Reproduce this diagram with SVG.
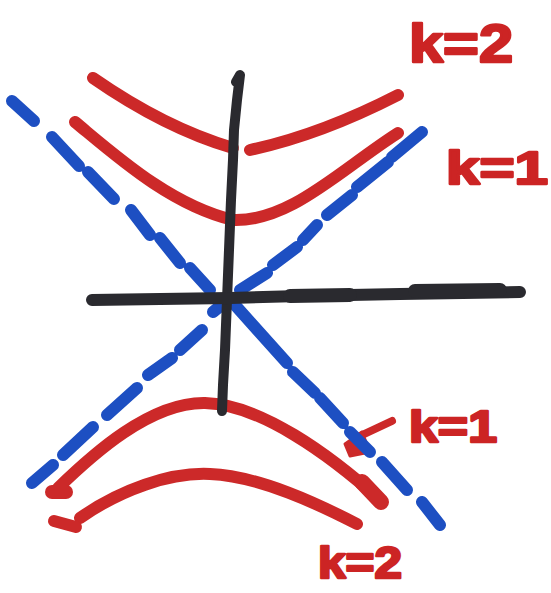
<svg xmlns="http://www.w3.org/2000/svg" width="551" height="593" viewBox="0 0 551 593">
<style>
.red{fill:none;stroke:#cc2929;stroke-width:12;stroke-linecap:round;stroke-linejoin:round}
.blue{fill:none;stroke:#1d4fc2;stroke-width:12;stroke-linecap:round}
.ax{fill:none;stroke:#2a2a2f;stroke-linecap:round;stroke-linejoin:round}
.lbl{font-family:"Liberation Sans",Arial,sans-serif;font-weight:bold;fill:#cc2424;stroke:#cc2424;stroke-width:2.5;stroke-linejoin:round}
</style>
<rect width="551" height="593" fill="#ffffff"/>
<g id="curves">
<path class="red" d="M93,78 Q165,128 233,148"/>
<path class="red" d="M250,150 Q320,135 398,95"/>
<path class="red" d="M75,122 C115,155 170,205 233,220 C290,222 340,170 398,133"/>
<path class="red" d="M58,488 C92,455 150,402 205,403 C260,404 330,455 380,500"/>
<path class="red" style="stroke-width:14" d="M52,492 L66,492"/>
<path class="red" style="stroke-width:16" d="M362,482 L381,502"/>
<path class="red" d="M80,518 C120,490 170,472 210,474 C260,476 320,505 357,524"/>
<path class="red" d="M54,521 L76,527"/>
</g>
<g id="arrow">
<path class="red" style="stroke-width:8" d="M392,421 L360,436"/>
<path d="M362,432 L345,444 L350,456 L370,452 Z" fill="#cc2929" stroke="#cc2929" stroke-width="3" stroke-linejoin="round"/>
</g>
<g id="asymptotes">
<path class="blue" d="M12,101 L34,121 M52,137 L79,166 M88,172 L114,199 M131,210 L150,235 M160,238 L180,263 M190,268 L210,290 M235,305 L287,363 M293,372 L315,393 M320,398 L343,423 M350,432 L370,452 M382,462 L407,490 M422,502 L440,525"/>
<path class="blue" d="M422,132 L392,157 M388,162 L357,187 M352,195 L327,215 M317,225 L303,240 M297,247 L273,265 M267,273 L240,290 M224,303 L213,312 M202,330 L180,350 M172,358 L148,375 M137,388 L107,415 M93,427 L63,455 M53,465 L32,483"/>
</g>
<g id="axes">
<path class="ax" style="stroke-width:10" d="M236,82 L240,75 L237,100 L234,130 L233,160 L231,200 L229,250 L227,300 L225,350 L223,385 L222,411"/>
<path class="ax" style="stroke-width:12" d="M92,300 L160,299 L230,298 L300,296 L400,294 L520,292"/>
<path class="ax" style="stroke-width:14" d="M290,296 L350,295 M415,291 L500,290"/>
</g>
<g id="labels">
<text class="lbl" x="409" y="62" font-size="54" textLength="104" lengthAdjust="spacingAndGlyphs">k=2</text>
<text class="lbl" x="446" y="184" font-size="46" textLength="102" lengthAdjust="spacingAndGlyphs">k=1</text>
<text class="lbl" x="409" y="442" font-size="44" textLength="88" lengthAdjust="spacingAndGlyphs">k=1</text>
<text class="lbl" x="318" y="578" font-size="44" textLength="84" lengthAdjust="spacingAndGlyphs">k=2</text>
</g>
</svg>
